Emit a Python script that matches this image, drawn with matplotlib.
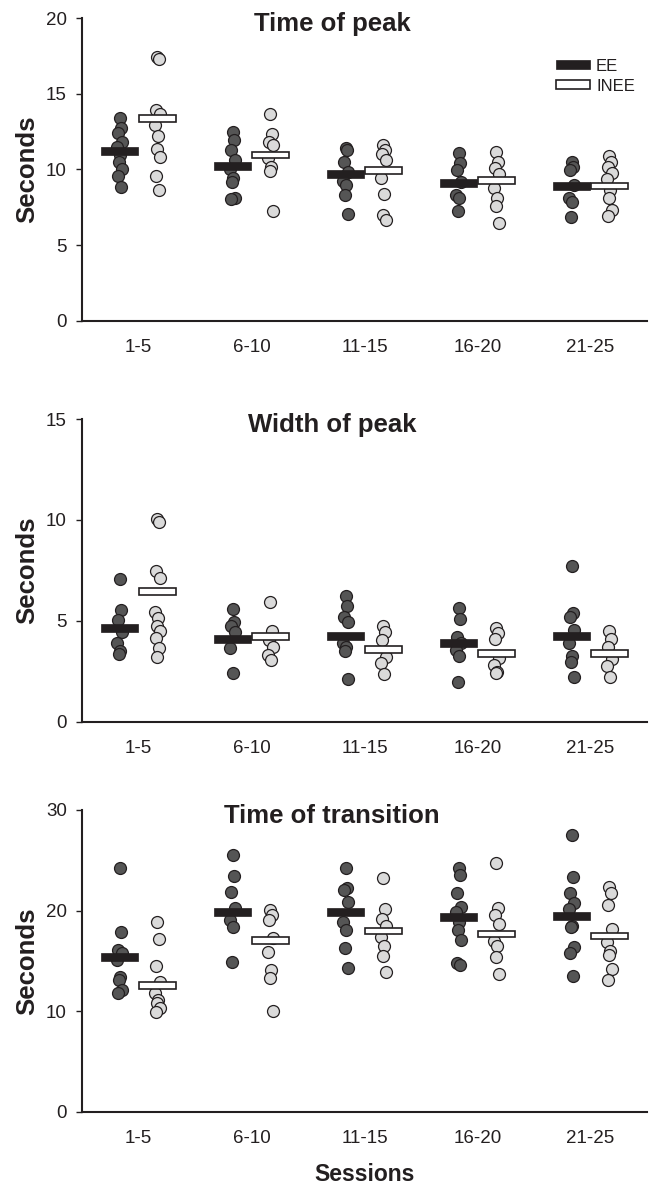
import matplotlib
matplotlib.use("Agg")
import matplotlib.pyplot as plt
from matplotlib.patches import Patch
import numpy as np

plt.rcParams['font.family'] = ['Liberation Sans', 'DejaVu Sans']

sessions = ["1-5", "6-10", "11-15", "16-20", "21-25"]
groups = ["EE", "INEE"]
titles = ["Time of peak", "Width of peak", "Time of transition"]
y_max = [20, 15, 30]
y_ticks = [[0, 5, 10, 15, 20], [0, 5, 10, 15], [0, 10, 20, 30]]

# ---- Time of peak ----
peak_time_EE = [
    [13.43, 12.72, 12.39, 11.84, 11.5, 10.96, 10.52, 10.03, 9.59, 8.86],
    [12.5, 11.95, 11.29, 10.63, 10.03, 9.46, 9.19, 8.14, 8.03],
    [11.44, 11.29, 10.52, 9.85, 9.24, 8.97, 8.31, 7.08],
    [11.07, 10.41, 9.97, 9.19, 8.31, 8.14, 7.26],
    [10.52, 10.19, 9.97, 9.0, 8.14, 7.87, 6.88],
]
peak_time_INEE = [
    [17.42, 17.29, 13.94, 13.65, 12.94, 12.24, 11.33, 10.85, 9.59, 8.64],
    [13.67, 12.33, 11.84, 11.62, 10.74, 10.19, 9.9, 7.26],
    [11.62, 11.29, 11.0, 10.63, 9.42, 8.36, 6.99, 6.66],
    [11.18, 10.52, 10.12, 9.68, 8.76, 8.14, 7.61, 6.44],
    [10.91, 10.52, 10.19, 9.75, 9.37, 8.64, 8.14, 7.32, 6.94],
]
peak_time_mean_EE = [11.25, 10.25, 9.70, 9.09, 8.93]
peak_time_mean_INEE = [13.38, 10.96, 9.94, 9.26, 8.91]

# ---- Width of peak ----
peak_width_EE = [
    [7.05, 5.53, 5.03, 4.46, 3.88, 3.51, 3.35],
    [5.56, 4.95, 4.74, 4.46, 3.63, 2.43],
    [6.22, 5.73, 5.2, 4.95, 3.88, 3.68, 3.51, 2.1],
    [5.61, 5.07, 4.21, 3.88, 3.55, 3.25, 1.98],
    [7.71, 5.4, 5.17, 4.54, 3.88, 3.25, 2.97, 2.23],
]
peak_width_INEE = [
    [10.02, 9.9, 7.48, 7.1, 5.45, 5.12, 4.74, 4.5, 4.13, 3.63, 3.22],
    [5.94, 4.5, 4.04, 3.71, 3.3, 3.05],
    [4.74, 4.46, 4.04, 3.22, 2.89, 2.35],
    [4.62, 4.41, 4.08, 3.14, 2.81, 2.48, 2.4],
    [4.5, 4.08, 3.68, 3.09, 2.76, 2.23],
]
peak_width_mean_EE = [4.65, 4.11, 4.26, 3.91, 4.24]
peak_width_mean_INEE = [6.44, 4.21, 3.58, 3.39, 3.39]

# ---- Time of transition ----
transition_EE = [
    [24.28, 17.85, 16.09, 15.76, 15.09, 13.37, 13.1, 12.11, 11.84],
    [25.54, 23.48, 21.89, 20.24, 19.07, 18.35, 14.93],
    [24.28, 22.23, 22.06, 20.9, 18.91, 18.08, 16.32, 14.33],
    [24.22, 23.55, 21.73, 20.4, 19.9, 18.91, 18.08, 17.09, 14.83, 14.6],
    [27.53, 23.32, 21.73, 20.74, 20.14, 18.48, 18.35, 16.36, 15.76, 13.5],
]
transition_INEE = [
    [18.88, 17.15, 14.5, 12.94, 11.84, 11.11, 10.85, 10.29, 9.95],
    [20.07, 19.57, 19.07, 17.25, 15.92, 14.1, 13.27, 10.05],
    [23.28, 20.14, 19.14, 18.48, 17.41, 16.49, 15.49, 13.87],
    [24.72, 20.24, 19.57, 18.68, 17.02, 16.49, 15.42, 13.7],
    [22.39, 21.79, 20.57, 18.15, 16.92, 15.99, 15.59, 14.17, 13.1],
]
transition_mean_EE = [15.42, 19.84, 19.84, 19.34, 19.47]
transition_mean_INEE = [12.54, 17.02, 17.98, 17.65, 17.48]

panels = [
    (peak_time_EE, peak_time_INEE, peak_time_mean_EE, peak_time_mean_INEE),
    (peak_width_EE, peak_width_INEE, peak_width_mean_EE, peak_width_mean_INEE),
    (transition_EE, transition_INEE, transition_mean_EE, transition_mean_INEE),
]

W, H = 653, 1187
fig = plt.figure(figsize=(W / 100, H / 100), dpi=100)
ink = '#231f20'

ax_px = [(18.3, 320.7), (419.0, 721.7), (810.0, 1111.7)]
left_px, right_px = 82, 647
jitter = [0.0, 0.015, -0.012, 0.02, -0.018, 0.008, -0.005, 0.018, -0.015, 0.01, -0.008]
offset = 0.168
bar_w = 0.32

for k, (top, bot) in enumerate(ax_px):
    ax = fig.add_axes([left_px / W, 1 - bot / H, (right_px - left_px) / W, (bot - top) / H])
    ee, inee, m_ee, m_inee = panels[k]
    ax.set_xlim(0, 5)
    ax.set_ylim(0, y_max[k])
    px_per_unit = (bot - top) / y_max[k]
    h_ee = 8.0 / px_per_unit
    h_inee = 6.5 / px_per_unit
    centers = np.arange(len(sessions)) + 0.5
    for i, c in enumerate(centers):
        for vals, xpos, fc in ((ee[i], c - offset, '#555555'), (inee[i], c + offset, '#dadada')):
            xs = xpos + np.array([jitter[j % len(jitter)] for j in range(len(vals))])
            ax.plot(xs, vals, 'o', ms=8.6, mfc=fc, mec=ink, mew=0.9, zorder=2, clip_on=False)
    ax.bar(centers - offset, [h_ee] * 5, bottom=np.array(m_ee) - h_ee / 2, width=bar_w,
           color=ink, edgecolor=ink, linewidth=0.5, zorder=3)
    ax.bar(centers + offset, [h_inee] * 5, bottom=np.array(m_inee) - h_inee / 2, width=bar_w,
           color='white', edgecolor=ink, linewidth=1.2, zorder=3)

    for s in ('top', 'right'):
        ax.spines[s].set_visible(False)
    for s in ('left', 'bottom'):
        ax.spines[s].set_linewidth(1.5)
        ax.spines[s].set_color(ink)
    ax.set_yticks(y_ticks[k])
    ax.set_xticks(centers)
    ax.set_xticklabels(sessions)
    ax.tick_params(axis='y', length=4, width=1.0, color=ink, pad=7, labelsize=13.5, labelcolor=ink)
    ax.tick_params(axis='x', length=0, pad=13, labelsize=13.5, labelcolor=ink)
    ax.set_ylabel("Seconds", fontsize=18.5, fontweight='bold', color=ink, labelpad=5)
    ax.text(0.443, 0.981, titles[k], transform=ax.transAxes, ha='center', va='center',
            fontsize=18.5, fontweight='bold', color=ink)
    if k == 0:
        handles = [Patch(facecolor=ink, edgecolor=ink, linewidth=0.5),
                   Patch(facecolor='white', edgecolor=ink, linewidth=1.2)]
        ax.legend(handles, groups, loc='upper left', bbox_to_anchor=(0.839, 0.867),
                  frameon=False, fontsize=12, handlelength=2.05, handleheight=0.45,
                  handletextpad=0.35, labelspacing=0.32, borderpad=0, borderaxespad=0,
                  labelcolor=ink)
    if k == 2:
        ax.set_xlabel("Sessions", fontsize=16.5, fontweight='bold', color=ink, labelpad=12)

fig.savefig("out.png", dpi=100)
